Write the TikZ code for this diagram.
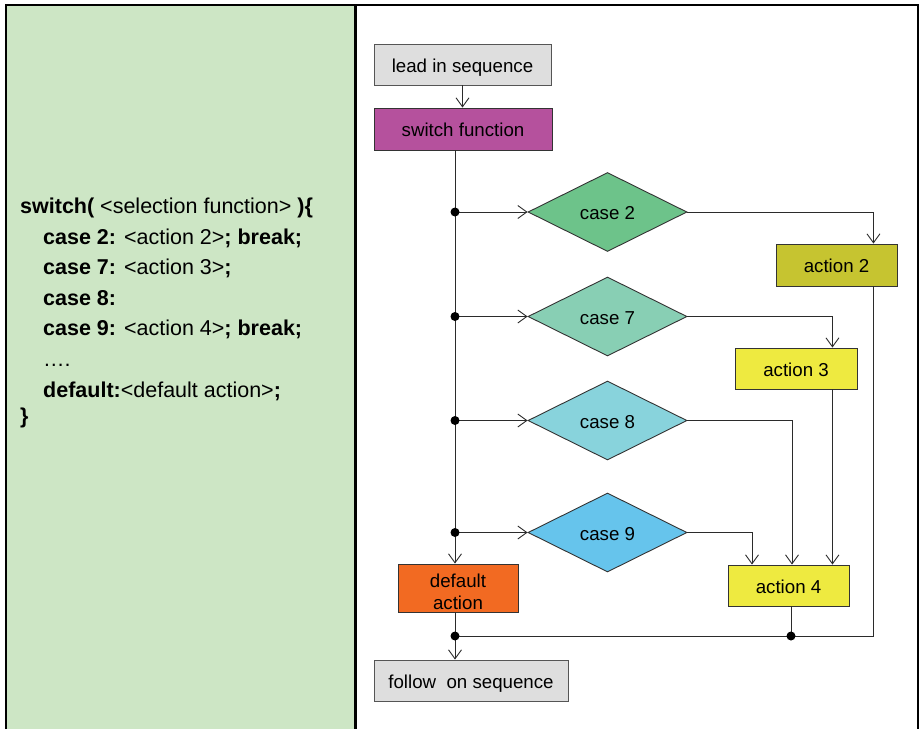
\documentclass[tikz,border=0pt]{standalone}
\usepackage{fontspec}
\setmainfont{Liberation Sans}
\usetikzlibrary{shapes.geometric,arrows.meta}

\definecolor{panel}{HTML}{CDE6C5}
\definecolor{grayfill}{HTML}{DEDEDE}
\definecolor{grayline}{HTML}{555555}
\definecolor{boxline}{HTML}{333333}
\definecolor{wirec}{HTML}{2B2B2B}
\definecolor{swfill}{HTML}{B5519D}
\definecolor{deffill}{HTML}{F26A22}
\definecolor{c2fill}{HTML}{6DC38A}
\definecolor{c7fill}{HTML}{88CFB4}
\definecolor{c8fill}{HTML}{88D3DC}
\definecolor{c9fill}{HTML}{66C4EC}
\definecolor{a2fill}{HTML}{C6C430}
\definecolor{a3fill}{HTML}{EEEA40}

\begin{document}
\begin{tikzpicture}[x=1pt,y=-1pt,
  lbl/.style={font=\fontsize{18.7}{22}\selectfont, text height=15pt, text depth=0pt},
  box/.style={lbl, draw=boxline, line width=0.9pt, inner sep=0pt, minimum height=42pt},
  dia/.style={lbl, diamond, draw=boxline, line width=0.9pt, inner sep=0pt,
              minimum width=159pt, minimum height=79pt},
  wire/.style={draw=wirec, line width=0.9pt},
  arr/.style={wire, -{Straight Barb[length=9pt,width=13pt]}},
  code/.style={font=\fontsize{21.5}{25}\selectfont, anchor=base west, inner sep=0pt}]

\useasboundingbox (0,0) rectangle (919,729);

% frame and code panel
\fill[panel] (6,5) rectangle (355,729);
\draw[line width=2.5pt] (6,729) -- (6,5) -- (918,5) -- (918,729);
\draw[line width=3pt] (355,5) -- (355,729);

% switch statement
\node[code] (l1) at (20,213) {\textbf{switch(} <selection function> \textbf{)\{}};
\node[code] (l2) at (43,244) {\textbf{case 2:} <action 2>\textbf{; break;}};
\node[code] (l3) at (43,274) {\textbf{case 7:} <action 3>\textbf{;}};
\node[code] (l4) at (43,305) {\textbf{case 8:}};
\node[code] (l5) at (43,335) {\textbf{case 9:} <action 4>\textbf{; break;}};
\node[code] (l6) at (43,366) {….};
\node[code] (l7) at (43,397) {\textbf{default:}<default action>\textbf{;}};
\node[code] (l8) at (20,423) {\textbf{\}}};

% flowchart nodes
\node[box, fill=grayfill, draw=grayline, minimum width=177pt, minimum height=41pt] (lead) at (462.5,64.5) {lead in sequence};
\node[box, fill=swfill, minimum width=178pt] (sw) at (463,129) {switch function};
\node[dia, fill=c2fill] (c2) at (607.5,212) {case 2};
\node[dia, fill=c7fill] (c7) at (607.5,316.5) {case 7};
\node[dia, fill=c8fill] (c8) at (607.5,420.5) {case 8};
\node[dia, fill=c9fill] (c9) at (607.5,532.5) {case 9};
\node[box, fill=a2fill, minimum width=121pt] (a2) at (836.5,265) {action 2};
\node[box, fill=a3fill, minimum width=122pt, minimum height=41pt] (a3) at (796,368.5) {action 3};
\node[box, fill=a3fill, minimum width=121pt, minimum height=41pt] (a4) at (788.5,585.5) {action 4};
\node[box, fill=deffill, minimum width=120pt, minimum height=48pt, align=center,
      text height=42pt, text depth=0pt] (def) at (458,588) {default\\action};
\node[box, fill=grayfill, draw=grayline, minimum width=194pt, minimum height=41pt] (fol) at (471,680.5) {follow\ \ on sequence};

% junctions
\coordinate (j2) at (455,212);
\coordinate (j7) at (455,316.5);
\coordinate (j8) at (455,420.5);
\coordinate (j9) at (455,532.5);
\coordinate (m) at (455,636);
\coordinate (m4) at ([xshift=2.5pt]a4.south |- m);

% connectors
\draw[arr] (lead.south) -- (lead.south |- sw.north);
\draw[wire] (sw.south -| j2) -- (j9);
\draw[arr] (j9) -- (def.north -| j9);
\draw[arr] (j2) -- (c2.west);
\draw[arr] (j7) -- (c7.west);
\draw[arr] (j8) -- (c8.west);
\draw[arr] (j9) -- (c9.west);
\draw[arr] (c2.east) -| ([xshift=-24pt]a2.north east);
\draw[wire] ([xshift=-24pt]a2.south east) |- (m);
\draw[arr] (c7.east) -| ([xshift=-25pt]a3.north east);
\draw[arr] ([xshift=-25pt]a3.south east) -- ([xshift=-25pt]a3.south east |- a4.north);
\draw[arr] (c8.east) -| ([xshift=3.5pt]a4.north);
\draw[arr] (c9.east) -| ([xshift=-36.5pt]a4.north);
\draw[wire] ([xshift=2.5pt]a4.south) -- (m4);
\draw[wire] (def.south -| m) -- (m);
\draw[arr] (m) -- (fol.north -| m);

% junction dots
\foreach \p in {j2,j7,j8,j9,m,m4} \fill (\p) circle (4.5pt);
\end{tikzpicture}
\end{document}
